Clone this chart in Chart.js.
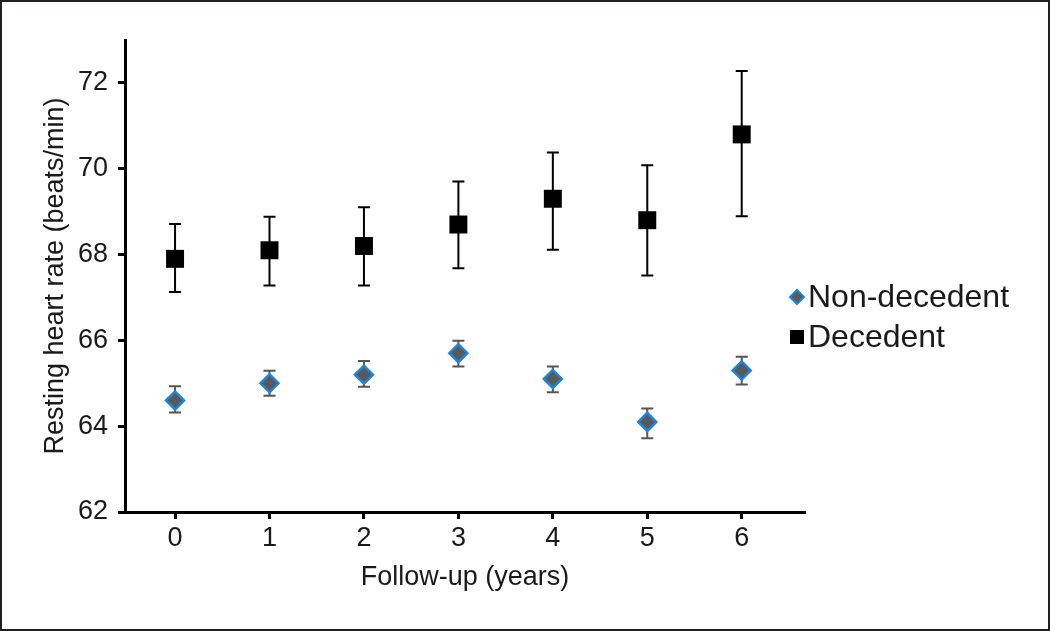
<!DOCTYPE html>
<html>
<head>
<meta charset="utf-8">
<script src="https://cdn.jsdelivr.net/npm/chart.js@4/dist/chart.umd.min.js"></script>
<style>
  html, body { margin: 0; padding: 0; background: #fff; }
  #wrap { width: 1050px; height: 631px; }
</style>
</head>
<body>
<div id="wrap"><canvas id="c" width="1050" height="631"></canvas></div>
<script>
// ---- Data ----
const years = [0, 1, 2, 3, 4, 5, 6];
const yTickValues = [62, 64, 66, 68, 70, 72];

const nonDecedentMean = [64.6, 65.0, 65.2, 65.7, 65.1, 64.1, 65.3];
const nonDecedentLow  = [64.32, 64.71, 64.92, 65.39, 64.79, 63.72, 64.97];
const nonDecedentHigh = [64.93, 65.29, 65.52, 65.99, 65.39, 64.41, 65.62];

const decedentMean = [67.9, 68.1, 68.2, 68.7, 69.3, 68.8, 70.8];
const decedentLow  = [67.13, 67.28, 67.28, 67.68, 68.11, 67.51, 68.89];
const decedentHigh = [68.71, 68.88, 69.10, 69.70, 70.38, 70.08, 72.28];

const seriesLabels = ['Non-decedent', 'Decedent'];

// ---- Build ----
const toPoints = (means) => years.map((x, i) => ({ x: x, y: means[i] }));

const FONT = "'Liberation Sans', Arial, Helvetica, sans-serif";
const TEXT = '#1a1a1a';

const errorBars = {
  id: 'errorBars',
  beforeDatasetsDraw(chart) {
    const ctx = chart.ctx;
    const xs = chart.scales.x, ys = chart.scales.y;
    chart.data.datasets.forEach((ds) => {
      ctx.save();
      ctx.strokeStyle = ds.errorColor;
      ctx.lineWidth = 2;
      ds.data.forEach((p, i) => {
        const x = xs.getPixelForValue(p.x);
        const yl = ys.getPixelForValue(ds.errLow[i]);
        const yh = ys.getPixelForValue(ds.errHigh[i]);
        const cap = 6;
        ctx.beginPath();
        ctx.moveTo(x, yl); ctx.lineTo(x, yh);
        ctx.moveTo(x - cap, yl); ctx.lineTo(x + cap, yl);
        ctx.moveTo(x - cap, yh); ctx.lineTo(x + cap, yh);
        ctx.stroke();
      });
      ctx.restore();
    });
  }
};

const frameAndLegend = {
  id: 'frameAndLegend',
  beforeDraw(chart) {
    const ctx = chart.ctx;
    ctx.save();
    ctx.fillStyle = '#fff';
    ctx.fillRect(0, 0, chart.width, chart.height);
    ctx.restore();
  },
  afterDraw(chart) {
    const ctx = chart.ctx;
    const ca = chart.chartArea;
    ctx.save();
    // outer frame
    ctx.strokeStyle = '#231f20';
    ctx.lineWidth = 2;
    ctx.strokeRect(1, 1, chart.width - 2, chart.height - 2);
    // legend
    const mx = ca.right - 8;
    const tx = ca.right + 3;
    const y0 = ca.top + 257;
    chart.data.datasets.forEach((ds, i) => {
      const y = y0 + i * 40;
      ctx.beginPath();
      if (ds.pointStyle === 'rectRot') {
        const r = 7;
        ctx.moveTo(mx, y - r); ctx.lineTo(mx + r, y); ctx.lineTo(mx, y + r); ctx.lineTo(mx - r, y); ctx.closePath();
        ctx.fillStyle = ds.backgroundColor; ctx.fill();
        ctx.lineWidth = 2; ctx.strokeStyle = ds.borderColor; ctx.stroke();
      } else {
        const s = 7;
        ctx.rect(mx - s, y - s, 2 * s, 2 * s);
        ctx.fillStyle = ds.backgroundColor; ctx.fill();
      }
      ctx.fillStyle = TEXT;
      ctx.font = '32px ' + FONT;
      ctx.textBaseline = 'middle';
      ctx.textAlign = 'left';
      ctx.fillText(ds.label, tx, y + 1);
    });
    ctx.restore();
  }
};

new Chart(document.getElementById('c'), {
  type: 'scatter',
  data: {
    datasets: [
      {
        label: seriesLabels[0],
        data: toPoints(nonDecedentMean),
        errLow: nonDecedentLow,
        errHigh: nonDecedentHigh,
        errorColor: '#555555',
        pointStyle: 'rectRot',
        pointRadius: 9,
        pointHoverRadius: 9,
        backgroundColor: '#58595b',
        borderColor: '#1f84d6',
        borderWidth: 2.5
      },
      {
        label: seriesLabels[1],
        data: toPoints(decedentMean),
        errLow: decedentLow,
        errHigh: decedentHigh,
        errorColor: '#000000',
        pointStyle: 'rect',
        pointRadius: 12.7,
        pointHoverRadius: 12.7,
        backgroundColor: '#000000',
        borderColor: '#000000',
        borderWidth: 0
      }
    ]
  },
  options: {
    responsive: false,
    devicePixelRatio: 1,
    animation: false,
    layout: { padding: { top: 40, right: 245, bottom: 0, left: 0 } },
    plugins: { legend: { display: false }, tooltip: { enabled: false } },
    scales: {
      x: {
        type: 'linear',
        min: -0.53,
        max: 6.67,
        afterBuildTicks(scale) { scale.ticks = years.map(v => ({ value: v })); },
        afterFit(scale) { scale.height = 119; },
        grid: { display: true, drawOnChartArea: false, drawTicks: true, tickLength: 7, tickWidth: 3, tickColor: '#000' },
        border: { display: true, color: '#000', width: 3 },
        ticks: { color: TEXT, font: { family: FONT, size: 27 }, padding: 3, maxRotation: 0 },
        title: { display: true, text: 'Follow-up (years)', color: TEXT, font: { family: FONT, size: 27 }, padding: { top: 0, bottom: 37 } }
      },
      y: {
        type: 'linear',
        min: 62,
        max: 73,
        afterBuildTicks(scale) { scale.ticks = yTickValues.map(v => ({ value: v })); },
        afterFit(scale) { scale.width = 125; },
        grid: { display: true, drawOnChartArea: false, drawTicks: true, tickLength: 7, tickWidth: 3, tickColor: '#000' },
        border: { display: true, color: '#000', width: 3 },
        ticks: { color: TEXT, font: { family: FONT, size: 27 }, padding: 10 },
        title: { display: true, text: 'Resting heart rate (beats/min)', color: TEXT, font: { family: FONT, size: 27 }, padding: { top: 39, bottom: 0 } }
      }
    }
  },
  plugins: [errorBars, frameAndLegend]
});
</script>
</body>
</html>
